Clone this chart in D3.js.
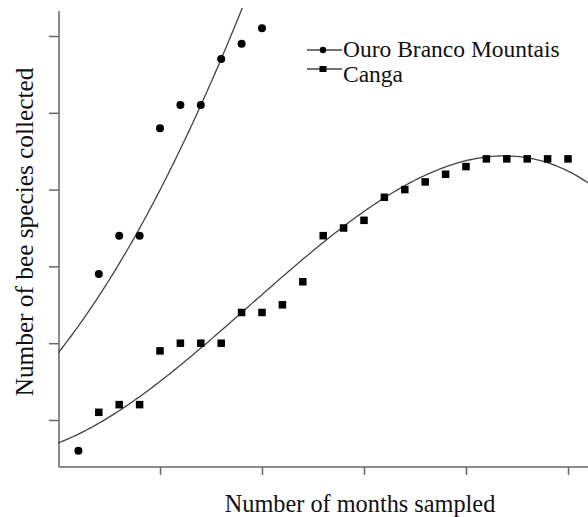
<!DOCTYPE html>
<html>
<head>
<meta charset="utf-8">
<script src="https://cdn.jsdelivr.net/npm/d3@7"></script>
<style>
  body { margin: 0; background: #fff; }
</style>
</head>
<body>
<svg width="588" height="517"></svg>
<script>
// Observed data (months sampled vs species collected)
const ouroMonths = [1, 2, 3, 4, 5, 6, 7, 8, 9, 10];
const ouroSpecies = [6, 29, 34, 34, 48, 51, 51, 57, 59, 61];
const cangaMonths = [2, 3, 4, 5, 6, 7, 8, 9, 10, 11, 12, 13, 14, 15, 16, 17, 18, 19, 20, 21, 22, 23, 24, 25];
const cangaSpecies = [11, 12, 12, 19, 20, 20, 20, 24, 24, 25, 28, 34, 35, 36, 39, 40, 41, 42, 43, 44, 44, 44, 44, 44];

// Fitted trend coefficients (a + b*x + c*x^2 + d*x^3)
const ouroFit = [18.7, 3.35, 0.18, 0];
const cangaFit = [7.0, 1.027, 0.1405, -0.004997];

const xTicks = [5, 10, 15, 20, 25];
const yTicks = [10, 20, 30, 40, 50, 60];

const legendLabels = ["Ouro Branco Mountais", "Canga"];
const legendShapes = ["circle", "square"];

const fontFamily = "Times New Roman";

// SVG plotting related variables.
const svg = d3.select("svg");
const margin = { top: 11, right: 0, bottom: 50, left: 58 };
const width = +svg.attr("width");
const height = +svg.attr("height");

const xScale = d3.scaleLinear()
                 .domain([0, 25])
                 .range([margin.left, 568]);
const yScale = d3.scaleLinear()
                 .domain([10, 60])
                 .range([420, 36]);

const axisColor = "#666";
const plotBottom = height - margin.bottom; // 467

// Clip region for the fitted curves
svg.append("defs")
   .append("clipPath")
   .attr("id", "plot-clip")
   .append("rect")
   .attr("x", margin.left)
   .attr("y", 8)
   .attr("width", width - margin.left)
   .attr("height", plotBottom - 8);

// X Axis
const xAxis = svg.append("g")
   .attr("class", "x-axis")
   .attr("transform", `translate(0, ${plotBottom})`)
   .call(d3.axisBottom(xScale).tickValues(xTicks).tickFormat("").tickSize(8).tickSizeOuter(0));
xAxis.select(".domain").attr("d", `M${margin.left + 1},0H${width}`);

// Y Axis
const yAxis = svg.append("g")
   .attr("class", "y-axis")
   .attr("transform", `translate(${margin.left + 1}, 0)`)
   .call(d3.axisLeft(yScale).tickValues(yTicks).tickFormat("").tickSize(10).tickSizeOuter(0));
yAxis.select(".domain").attr("d", `M0,${margin.top}V${plotBottom}`);

svg.selectAll(".x-axis path, .x-axis line, .y-axis path, .y-axis line")
   .style("stroke", axisColor)
   .style("stroke-width", 1.5);

// Fitted curves
function poly(c, x) {
    return c[0] + c[1] * x + c[2] * x * x + c[3] * x * x * x;
}
const xCurve = d3.range(0, 26.01, 0.1);
const line = d3.line().x(d => xScale(d[0])).y(d => yScale(d[1]));

[ouroFit, cangaFit].forEach(fit => {
    svg.append("path")
       .datum(xCurve.map(x => [x, poly(fit, x)]))
       .attr("d", line)
       .attr("fill", "none")
       .attr("stroke", "#444")
       .attr("stroke-width", 1.3)
       .attr("clip-path", "url(#plot-clip)");
});

// Canga squares
const sq = 7.5;
svg.selectAll("rect.canga")
   .data(d3.zip(cangaMonths, cangaSpecies))
   .enter()
   .append("rect")
   .attr("class", "canga")
   .attr("x", d => xScale(d[0]) - sq / 2)
   .attr("y", d => yScale(d[1]) - sq / 2)
   .attr("width", sq)
   .attr("height", sq)
   .attr("fill", "#000");

// Ouro Branco circles
svg.selectAll("circle.ouro")
   .data(d3.zip(ouroMonths, ouroSpecies))
   .enter()
   .append("circle")
   .attr("class", "ouro")
   .attr("cx", d => xScale(d[0]))
   .attr("cy", d => yScale(d[1]))
   .attr("r", 4)
   .attr("fill", "#000");

// Legend
const legendRowY = [50, 69];   // marker rows
const legendTextY = [57, 82];  // text baselines
const legend = svg.append("g").attr("transform", "translate(307, 0)");
const legendGroups = legend.selectAll(".legend-item")
                           .data(d3.zip(legendLabels, legendShapes))
                           .enter()
                           .append("g")
                           .attr("class", "legend-item");

legendGroups.append("line")
            .attr("x1", 0)
            .attr("x2", 35)
            .attr("y1", (d, i) => legendRowY[i])
            .attr("y2", (d, i) => legendRowY[i])
            .attr("stroke", "#444")
            .attr("stroke-width", 1.3);

legendGroups.filter(d => d[1] === "circle")
            .append("circle")
            .attr("cx", 16)
            .attr("cy", legendRowY[0])
            .attr("r", 3.2)
            .attr("fill", "#000");

legendGroups.filter(d => d[1] === "square")
            .append("rect")
            .attr("x", 12.5)
            .attr("y", legendRowY[1] - 3)
            .attr("width", 7)
            .attr("height", 6)
            .attr("fill", "#000");

legendGroups.append("text")
            .attr("x", 36)
            .attr("y", (d, i) => legendTextY[i])
            .attr("font-family", fontFamily)
            .attr("font-size", 23.5)
            .attr("fill", "#111")
            .text(d => d[0]);

// Axis titles
svg.append("text")
   .attr("x", 360)
   .attr("y", 512)
   .attr("text-anchor", "middle")
   .attr("font-family", fontFamily)
   .attr("font-size", 24.3)
   .attr("fill", "#111")
   .text("Number of months sampled");

svg.append("text")
   .attr("transform", "translate(33, 232) rotate(-90)")
   .attr("text-anchor", "middle")
   .attr("font-family", fontFamily)
   .attr("font-size", 25.3)
   .attr("fill", "#111")
   .text("Number of bee species collected");
</script>
</body>
</html>
